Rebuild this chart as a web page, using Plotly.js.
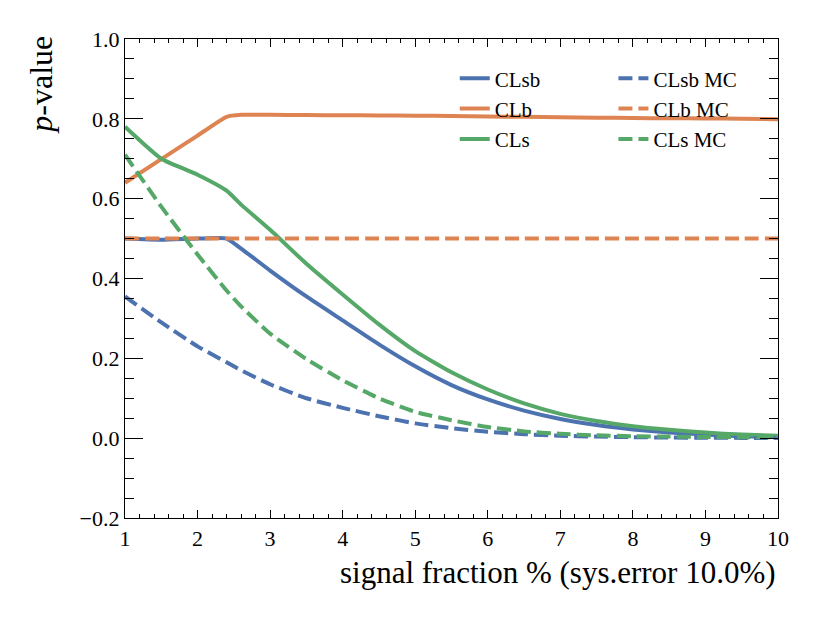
<!DOCTYPE html>
<html>
<head>
<meta charset="utf-8">
<script src="https://cdn.plot.ly/plotly-3.0.1.min.js"></script>
<style>html,body{margin:0;padding:0;background:#fff;}#chart{width:822px;height:617px;}</style>
</head>
<body>
<div id="chart"></div>
<script>
// signal fraction (%)
var signalFraction = [1, 1.5, 2, 2.4, 2.6, 3, 3.5, 4, 4.5, 5, 5.5, 6, 6.5, 7, 7.5, 8, 8.5, 9, 9.5, 10];
var clsb   = [0.5, 0.497, 0.5, 0.5, 0.475, 0.42, 0.355, 0.295, 0.235, 0.18, 0.133, 0.097, 0.069, 0.048, 0.033, 0.022, 0.014, 0.009, 0.005, 0.003];
var clb    = [0.64, 0.699, 0.758, 0.805, 0.81, 0.81, 0.8095, 0.809, 0.8085, 0.808, 0.807, 0.806, 0.805, 0.804, 0.803, 0.802, 0.8015, 0.801, 0.800, 0.799];
var cls    = [0.78, 0.70, 0.66, 0.62, 0.585, 0.522, 0.437, 0.36, 0.285, 0.218, 0.165, 0.122, 0.087, 0.061, 0.043, 0.03, 0.021, 0.014, 0.009, 0.006];
var clsbMC = [0.355, 0.29, 0.23, 0.19, 0.17, 0.135, 0.10, 0.076, 0.055, 0.037, 0.025, 0.016, 0.01, 0.006, 0.004, 0.0025, 0.0015, 0.001, 0.0007, 0.0005];
var clbMC  = [0.5, 0.5, 0.5, 0.5, 0.5, 0.5, 0.5, 0.5, 0.5, 0.5, 0.5, 0.5, 0.5, 0.5, 0.5, 0.5, 0.5, 0.5, 0.5, 0.5];
var clsMC  = [0.71, 0.58, 0.46, 0.37, 0.33, 0.262, 0.198, 0.145, 0.10, 0.066, 0.045, 0.028, 0.017, 0.011, 0.007, 0.005, 0.004, 0.003, 0.0025, 0.002];
var xTicks = [1, 2, 3, 4, 5, 6, 7, 8, 9, 10];
var yTicks = [-0.2, 0.0, 0.2, 0.4, 0.6, 0.8, 1.0];
var yTickText = ["\u22120.2", "0.0", "0.2", "0.4", "0.6", "0.8", "1.0"];

var BLUE = "#4C72B0", ORANGE = "#DD8452", GREEN = "#55A868";
var DASH = "14px,6px";
var FONT = "Liberation Serif";

function tr(name, y, color, dashed, legend) {
  return {
    x: signalFraction, y: y, name: name, type: "scatter", mode: "lines",
    line: {color: color, width: 4, dash: dashed ? DASH : "solid", shape: "spline", smoothing: 0.5},
    legend: legend
  };
}

var data = [
  tr("CLsb", clsb, BLUE, false, "legend"),
  tr("CLb", clb, ORANGE, false, "legend"),
  tr("CLs", cls, GREEN, false, "legend"),
  tr("CLsb MC", clsbMC, BLUE, true, "legend2"),
  tr("CLb MC", clbMC, ORANGE, true, "legend2"),
  tr("CLs MC", clsMC, GREEN, true, "legend2")
];

var layout = {
  width: 822, height: 617,
  margin: {l: 125, r: 44, t: 39, b: 99},
  paper_bgcolor: "#fff", plot_bgcolor: "#fff",
  showlegend: true,
  xaxis: {
    range: [1, 10], tickvals: xTicks, ticktext: xTicks.map(String),
    ticks: "inside", ticklen: 8, tickwidth: 1.2, tickcolor: "#000",
    showline: true, linecolor: "#000", linewidth: 1.3, mirror: "ticks",
    showgrid: false, zeroline: false,
    minor: {dtick: 0.2, ticks: "inside", ticklen: 4, tickwidth: 1, tickcolor: "#000", showgrid: false},
    tickfont: {family: FONT, size: 22, color: "#000"}
  },
  yaxis: {
    range: [-0.2, 1.0], tickvals: yTicks, ticktext: yTickText,
    ticks: "inside", ticklen: 18, tickwidth: 1.2, tickcolor: "#000",
    showline: true, linecolor: "#000", linewidth: 1.3, mirror: "ticks",
    showgrid: false, zeroline: false,
    minor: {dtick: 0.05, ticks: "inside", ticklen: 9, tickwidth: 1, tickcolor: "#000", showgrid: false},
    tickfont: {family: FONT, size: 22, color: "#000"}
  },
  legend: {
    x: 0.505, y: 0.96, xanchor: "left", yanchor: "top",
    bgcolor: "rgba(0,0,0,0)", borderwidth: 0,
    font: {family: FONT, size: 21, color: "#000"}
  },
  legend2: {
    x: 0.748, y: 0.96, xanchor: "left", yanchor: "top",
    bgcolor: "rgba(0,0,0,0)", borderwidth: 0,
    font: {family: FONT, size: 21, color: "#000"}
  },
  annotations: [
    {
      text: "<i>p</i>-value", xref: "paper", yref: "paper",
      x: -0.128, y: 1.012, xanchor: "center", yanchor: "top",
      textangle: -90, showarrow: false,
      font: {family: FONT, size: 32, color: "#000"}
    },
    {
      text: "signal fraction % (sys.error 10.0%)", xref: "paper", yref: "paper",
      x: 1.0, y: -0.113, xanchor: "right", yanchor: "middle",
      showarrow: false,
      font: {family: FONT, size: 31, color: "#000"}
    }
  ]
};

Plotly.newPlot("chart", data, layout, {displayModeBar: false});
</script>
</body>
</html>
